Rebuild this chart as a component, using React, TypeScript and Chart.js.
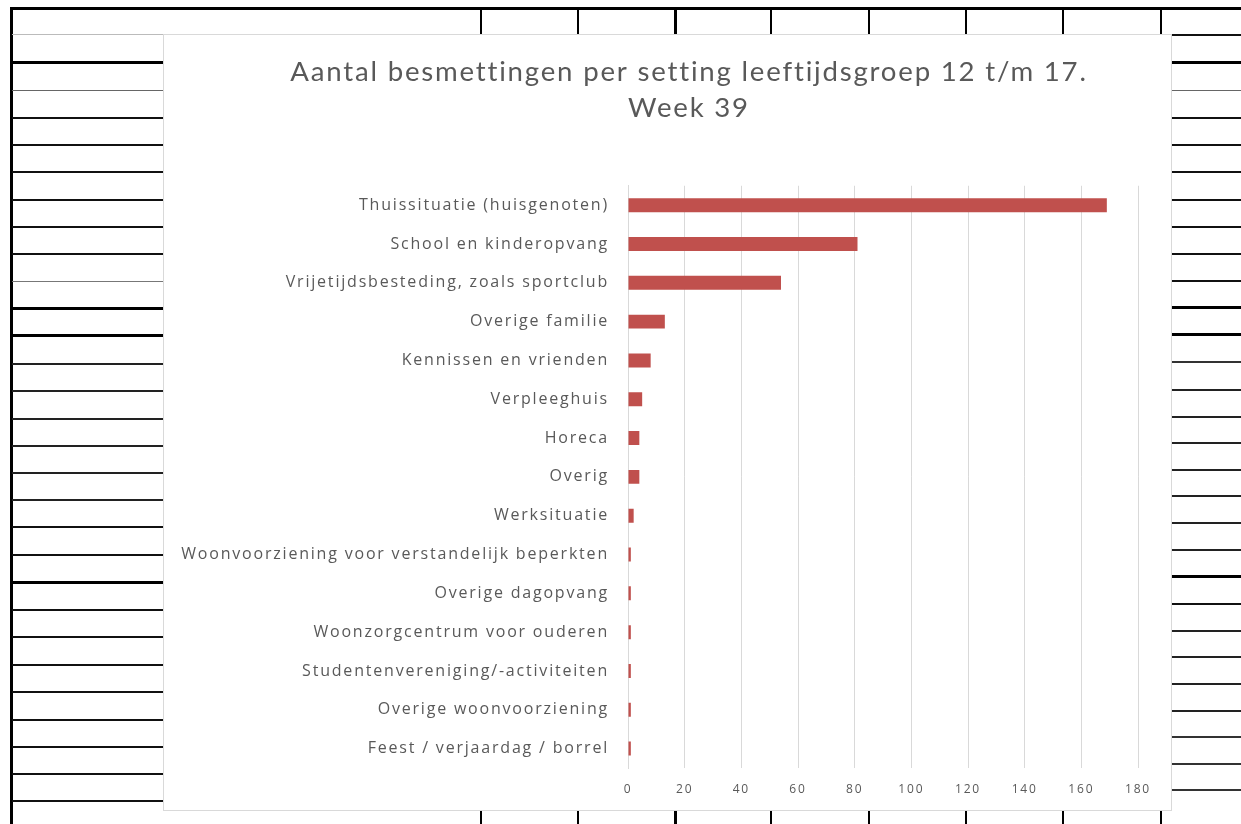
import React, { useEffect, useRef } from "react";
import { Chart, registerables } from "chart.js";

Chart.register(...registerables);

// ---- chart data ----
const categories = [
  "Thuissituatie (huisgenoten)",
  "School en kinderopvang",
  "Vrijetijdsbesteding, zoals sportclub",
  "Overige familie",
  "Kennissen en vrienden",
  "Verpleeghuis",
  "Horeca",
  "Overig",
  "Werksituatie",
  "Woonvoorziening voor verstandelijk beperkten",
  "Overige dagopvang",
  "Woonzorgcentrum voor ouderen",
  "Studentenvereniging/-activiteiten",
  "Overige woonvoorziening",
  "Feest / verjaardag / borrel",
];
const infections = [169, 81, 54, 13, 8, 5, 4, 4, 2, 1, 1, 1, 1, 1, 1];
const xMin = 0;
const xMax = 180;
const xStep = 20;
const titleLines = [
  "Aantal besmettingen per setting leeftijdsgroep 12 t/m 17.",
  "Week 39",
];

// ---- decorative spreadsheet background (not data) ----
// [y, thickness, color]
const leftRows: [number, number, string][] = [
  [34, 1, "#bbb"], [61, 3, "#000"], [90, 1, "#666"], [117, 2, "#111"], [144, 2, "#111"],
  [171, 2, "#111"], [199, 2, "#111"], [226, 2, "#111"], [253, 2, "#111"], [281, 1, "#777"],
  [307, 3, "#000"], [334, 3, "#000"], [363, 2, "#222"], [390, 2, "#222"], [418, 2, "#222"],
  [445, 2, "#222"], [472, 2, "#222"], [499, 2, "#222"], [526, 2, "#111"], [554, 2, "#111"],
  [581, 3, "#000"], [609, 2, "#111"], [636, 2, "#111"], [664, 2, "#111"], [691, 2, "#111"],
  [719, 2, "#111"], [746, 2, "#111"], [773, 2, "#111"], [800, 2, "#111"],
];
const rightRows: [number, number, string][] = [
  [34, 2, "#111"], [61, 3, "#000"], [90, 1, "#666"], [117, 2, "#111"], [144, 2, "#111"],
  [171, 2, "#111"], [199, 2, "#111"], [226, 2, "#111"], [253, 2, "#111"], [280, 2, "#111"],
  [306, 3, "#000"], [333, 3, "#000"], [361, 2, "#333"], [389, 2, "#222"], [416, 2, "#222"],
  [442, 2, "#222"], [469, 2, "#222"], [495, 2, "#222"], [522, 2, "#222"], [549, 2, "#222"],
  [575, 3, "#000"], [603, 2, "#111"], [630, 2, "#222"], [656, 2, "#222"], [683, 2, "#222"],
  [710, 2, "#222"], [736, 2, "#333"], [763, 2, "#333"], [789, 2, "#333"],
];
const topCols: [number, number][] = [
  [480, 2], [577, 2], [674, 3], [770, 2], [868, 2], [965, 2], [1062, 2], [1160, 2],
];

const textColor = "#595959";
const gridColor = "#d9d9d9";
const barColor = "#c0504d";

const letterSpacingPlugin = {
  id: "letterSpacing",
  beforeDraw(chart: any) {
    chart.ctx.letterSpacing = "1.8px";
  },
};

// shift the title block a little to the right, like the original
const titleShiftPlugin = {
  id: "titleShift",
  afterLayout(chart: any) {
    const t = chart.titleBlock;
    if (t) {
      t.left += 34;
      t.right += 34;
    }
  },
};

function ChartBox() {
  const ref = useRef<HTMLCanvasElement | null>(null);
  useEffect(() => {
    if (!ref.current) return;
    const chart = new Chart(ref.current, {
      type: "bar",
      data: {
        labels: categories,
        datasets: [
          {
            data: infections,
            backgroundColor: barColor,
            borderWidth: 0,
            categoryPercentage: 1,
            barPercentage: 0.36,
          },
        ],
      },
      plugins: [letterSpacingPlugin, titleShiftPlugin],
      options: {
        indexAxis: "y",
        responsive: false,
        animation: false,
        layout: { padding: { left: 8, right: 33, top: 0, bottom: 0 } },
        plugins: {
          legend: { display: false },
          tooltip: { enabled: false },
          title: {
            display: true,
            text: titleLines,
            color: textColor,
            font: { family: "Lato", size: 27.6, weight: "normal", lineHeight: 1.3 },
            padding: { top: 19, bottom: 60 },
          },
        },
        scales: {
          x: {
            min: xMin,
            max: xMax,
            afterFit: (scale: any) => {
              scale.height = 42;
            },
            ticks: {
              stepSize: xStep,
              color: textColor,
              padding: 14,
              font: { family: "Open Sans", size: 12 },
            },
            grid: { color: gridColor, drawTicks: false, lineWidth: 1 },
            border: { display: false },
          },
          y: {
            afterFit: (scale: any) => {
              scale.width = 456;
            },
            ticks: {
              color: textColor,
              padding: 19,
              autoSkip: false,
              font: { family: "Open Sans", size: 16 },
            },
            grid: { display: false, drawTicks: false },
            border: { display: true, color: gridColor },
          },
        },
      },
    });
    return () => chart.destroy();
  }, []);
  return <canvas ref={ref} width={1007} height={775} style={{ display: "block" }} />;
}

export default function App() {
  const abs = (s: React.CSSProperties): React.CSSProperties => ({ position: "absolute", ...s });
  return (
    <div style={abs({ left: 0, top: 0, width: 1241, height: 824, background: "#fff", overflow: "hidden" })}>
      {/* spreadsheet frame */}
      <div style={abs({ left: 10, top: 7, width: 1231, height: 3, background: "#000" })} />
      <div style={abs({ left: 10, top: 7, width: 3, height: 817, background: "#000" })} />
      {leftRows.map(([y, t, c], i) => (
        <div key={"l" + i} style={abs({ left: 12, top: y, width: 152, height: t, background: c })} />
      ))}
      {rightRows.map(([y, t, c], i) => (
        <div key={"r" + i} style={abs({ left: 1172, top: y, width: 69, height: t, background: c })} />
      ))}
      {topCols.map(([x, w], i) => (
        <div key={"t" + i} style={abs({ left: x, top: 8, width: w, height: 26, background: "#000" })} />
      ))}
      {topCols.map(([x, w], i) => (
        <div key={"b" + i} style={abs({ left: x, top: 811, width: w, height: 13, background: "#000" })} />
      ))}
      {/* chart box */}
      <div
        style={abs({
          left: 163,
          top: 34,
          width: 1009,
          height: 777,
          background: "#fff",
          border: "1px solid #d9d9d9",
          boxSizing: "border-box",
        })}
      >
        <ChartBox />
      </div>
    </div>
  );
}
